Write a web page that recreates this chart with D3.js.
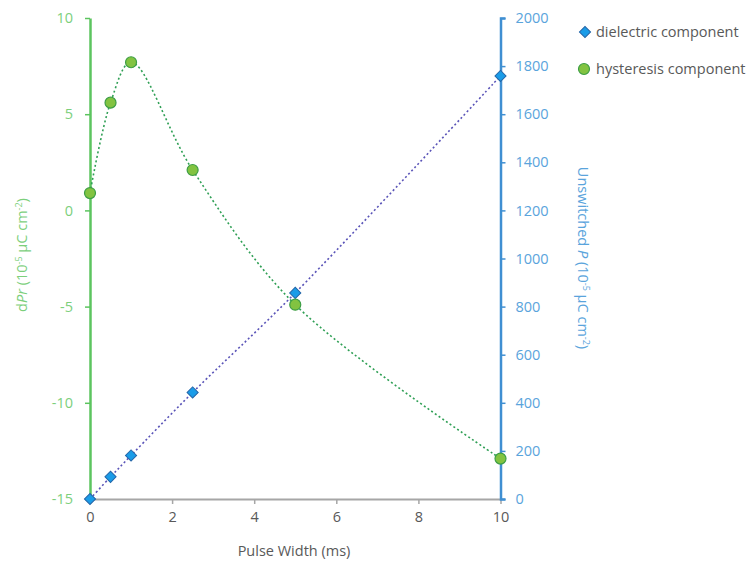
<!DOCTYPE html>
<html>
<head>
<meta charset="utf-8">
<script src="https://cdn.jsdelivr.net/npm/d3@7"></script>
<style>
  body { margin: 0; background: #fff; }
  svg text { font-family: "Open Sans", "Segoe UI", sans-serif; }
</style>
</head>
<body>
<svg id="chart" width="748" height="563"></svg>
<script>
// Pulse width (ms)
const pulseWidth = [0, 0.5, 1, 2.5, 5, 10];
// Dielectric component: unswitched P (10^-5 µC cm^-2), right axis
const dielectric = [0, 92, 181, 443, 857, 1759];
// Hysteresis component: dPr (10^-5 µC cm^-2), left axis
const hysteresis = [0.9, 5.6, 7.7, 2.1, -4.9, -12.9];

const xTicks = [0, 2, 4, 6, 8, 10];
const leftTicks = [10, 5, 0, -5, -10, -15];
const rightTicks = [0, 200, 400, 600, 800, 1000, 1200, 1400, 1600, 1800, 2000];

(function draw() {
  const svg = d3.select("#chart");
  const plotLeft = 90, plotRight = 500.5, plotTop = 18, plotBottom = 499;
  const plain = d => String(d);

  const x = d3.scaleLinear().domain([0, 10]).range([plotLeft, plotRight]);
  const yL = d3.scaleLinear().domain([-15, 10]).range([plotBottom, plotTop]);
  const yR = d3.scaleLinear().domain([0, 2000]).range([plotBottom, plotTop]);

  const green = "#5cc45f", greenText = "#7ccf7c";
  const blue = "#3f8fd2", blueText = "#5aa4dc";
  const grey = "#a6a6a6", greyText = "#595959";
  const fs = 14.5;

  // bottom axis
  const gx = svg.append("g").attr("transform", `translate(0,${plotBottom})`)
    .call(d3.axisBottom(x).tickValues(xTicks).tickFormat(plain).tickSize(5).tickSizeOuter(0).tickPadding(8));
  gx.select(".domain").attr("stroke", grey).attr("stroke-width", 2);
  gx.selectAll(".tick line").attr("stroke", grey).attr("stroke-width", 1.5);
  gx.selectAll(".tick text").attr("fill", greyText).attr("font-size", fs);

  // left axis
  const gl = svg.append("g").attr("transform", `translate(${plotLeft},0)`)
    .call(d3.axisLeft(yL).tickValues(leftTicks).tickFormat(plain).tickSize(5).tickSizeOuter(0).tickPadding(12));
  gl.select(".domain").attr("stroke", green).attr("stroke-width", 2.5);
  gl.selectAll(".tick line").attr("stroke", green).attr("stroke-width", 1.5);
  gl.selectAll(".tick text").attr("fill", greenText).attr("font-size", fs);

  // right axis
  const gr = svg.append("g").attr("transform", `translate(${plotRight},0)`)
    .call(d3.axisRight(yR).tickValues(rightTicks).tickFormat(plain).tickSize(5).tickSizeOuter(5).tickPadding(10));
  gr.select(".domain").attr("stroke", blue).attr("stroke-width", 2.5);
  gr.selectAll(".tick line").attr("stroke", blue).attr("stroke-width", 1.5);
  gr.selectAll(".tick text").attr("fill", blueText).attr("font-size", fs);

  // smoothed dotted series lines
  const hystLine = d3.line().x((d, i) => x(pulseWidth[i])).y(d => yL(d)).curve(d3.curveCatmullRom.alpha(0.5));
  const dielLine = d3.line().x((d, i) => x(pulseWidth[i])).y(d => yR(d)).curve(d3.curveCatmullRom.alpha(0.5));

  svg.append("path").attr("d", dielLine(dielectric))
    .attr("fill", "none").attr("stroke", "#5a54b8").attr("stroke-width", 1.6).attr("stroke-dasharray", "2,2.5");
  svg.append("path").attr("d", hystLine(hysteresis))
    .attr("fill", "none").attr("stroke", "#2f9f55").attr("stroke-width", 1.6).attr("stroke-dasharray", "2,2.5");

  // markers: square rotated 45° for the dielectric series
  const diamond = d3.symbol().type(d3.symbolSquare).size(62);
  svg.append("g").selectAll("path").data(dielectric).join("path")
    .attr("d", diamond)
    .attr("transform", (d, i) => `translate(${x(pulseWidth[i])},${yR(d)}) rotate(45)`)
    .attr("fill", "#1a9ce8").attr("stroke", "#2466a8").attr("stroke-width", 1);

  svg.append("g").selectAll("circle").data(hysteresis).join("circle")
    .attr("cx", (d, i) => x(pulseWidth[i])).attr("cy", d => yL(d)).attr("r", 5.5)
    .attr("fill", "#82c341").attr("stroke", "#3d9e45").attr("stroke-width", 1.2);

  // axis titles
  svg.append("text").attr("x", 294).attr("y", 556).attr("text-anchor", "middle")
    .attr("fill", greyText).attr("font-size", fs).text("Pulse Width (ms)");

  const lt = svg.append("text").attr("transform", "translate(27,255) rotate(-90)")
    .attr("text-anchor", "middle").attr("fill", greenText).attr("font-size", fs);
  lt.append("tspan").text("d");
  lt.append("tspan").attr("font-style", "italic").text("Pr");
  lt.append("tspan").text(" (10");
  lt.append("tspan").attr("font-size", 9).attr("dy", -5).text("-5");
  lt.append("tspan").attr("dy", 5).text(" µC cm");
  lt.append("tspan").attr("font-size", 9).attr("dy", -5).text("-2");
  lt.append("tspan").attr("dy", 5).text(")");

  const rt = svg.append("text").attr("transform", "translate(578,258) rotate(90)")
    .attr("text-anchor", "middle").attr("fill", blueText).attr("font-size", fs);
  rt.append("tspan").text("Unswitched ");
  rt.append("tspan").attr("font-style", "italic").text("P");
  rt.append("tspan").text(" (10");
  rt.append("tspan").attr("font-size", 9).attr("dy", -5).text("-5");
  rt.append("tspan").attr("dy", 5).text(" µC cm");
  rt.append("tspan").attr("font-size", 9).attr("dy", -5).text("-2");
  rt.append("tspan").attr("dy", 5).text(")");

  // legend
  const legend = svg.append("g");
  legend.append("path").attr("d", diamond).attr("transform", "translate(585,32) rotate(45)")
    .attr("fill", "#1a9ce8").attr("stroke", "#2466a8").attr("stroke-width", 1);
  legend.append("text").attr("x", 596).attr("y", 37).attr("fill", greyText).attr("font-size", 14.5)
    .text("dielectric component");
  legend.append("circle").attr("cx", 584).attr("cy", 69).attr("r", 5.5)
    .attr("fill", "#82c341").attr("stroke", "#3d9e45").attr("stroke-width", 1.2);
  legend.append("text").attr("x", 596).attr("y", 74).attr("fill", greyText).attr("font-size", 14.5)
    .text("hysteresis component");
})();
</script>
</body>
</html>
